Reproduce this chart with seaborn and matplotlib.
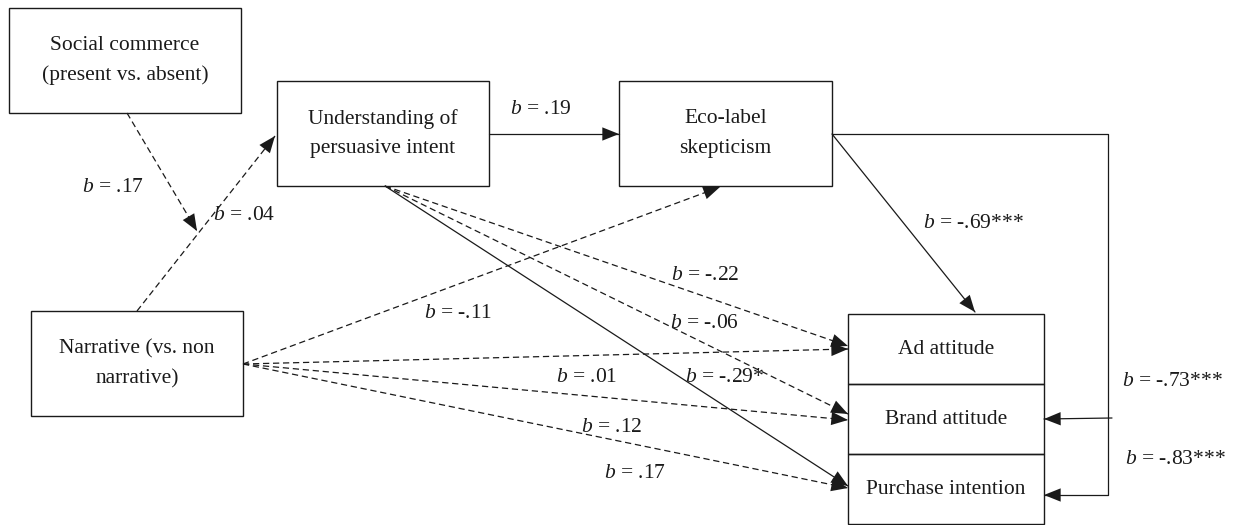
import matplotlib.pyplot as plt
from matplotlib.patches import Rectangle
import seaborn as sns

# node texts
node_texts = ["Social commerce\n(present vs. absent)",
              "Understanding of\npersuasive intent",
              "Eco-label\nskepticism",
              "Narrative (vs. non\nnarrative)"]
outcomes = ["Ad attitude", "Brand attitude", "Purchase intention"]

# path coefficients (in drawing order of the edges below)
coefs = [".17", ".04", ".19", "-.11", ".01", ".12", ".17",
         "-.22", "-.06", "-.29*", "-.69***", "-.73***", "-.83***"]
dashed = [True, True, False, True, True, True, True,
          True, True, False, False, False, False]

# ---- layout (pixel space of a 1233x525 figure) ----
node_boxes = [(9, 8, 232, 105), (277, 81, 212, 105), (619, 81, 213, 105), (31, 311, 212, 105)]
out_box = (848, 314, 196, 70)

edges = [
    [(127, 113), (197, 231)],
    [(137, 311), (275, 136)],
    [(489, 134), (619, 134)],
    [(243, 364), (720, 187)],
    [(243, 364), (848, 420)],
    [(243, 364), (848, 488)],
    [(243, 364), (848, 349)],
    [(385, 186), (848, 346)],
    [(385, 186), (848, 414)],
    [(385, 186), (848, 486)],
    [(832, 134), (975, 312)],
    [(1112, 418), (1044, 419)],
    [(832, 134), (1108, 134), (1108, 495), (1044, 495)],
]
label_pos = [(113, 188), (244, 216), (541, 110), (458, 313), (587, 378), (612, 427), (635, 473),
             (705, 276), (704, 323), (725, 378), (973, 223), (1172, 382), (1175, 460)]

sns.set_theme(style="white")
plt.rcParams['font.family'] = ['Liberation Serif', 'DejaVu Serif']
plt.rcParams['mathtext.fontset'] = 'custom'
plt.rcParams['mathtext.it'] = 'Liberation Serif:italic'
plt.rcParams['mathtext.rm'] = 'Liberation Serif'

ink = "#1a1a1a"
fs = 15.5

fig = plt.figure(figsize=(12.33, 5.25), dpi=100)
ax = fig.add_axes([0, 0, 1, 1])
ax.set_xlim(0, 1233)
ax.set_ylim(525, 0)
ax.axis("off")

for (x, y, w, h), txt in zip(node_boxes, node_texts):
    ax.add_patch(Rectangle((x, y), w, h, fill=False, ec=ink, lw=1.0))
    ax.text(x + w / 2, y + h / 2, txt, ha="center", va="center", fontsize=fs,
            linespacing=1.75, color=ink)

ox, oy, ow, oh = out_box
for i, txt in enumerate(outcomes):
    ax.add_patch(Rectangle((ox, oy + i * oh), ow, oh, fill=False, ec=ink, lw=1.0))
    ax.text(ox + ow / 2, oy + i * oh + oh / 2, txt, ha="center", va="center",
            fontsize=fs, color=ink)

for pts, d in zip(edges, dashed):
    xs = [p[0] for p in pts]
    ys = [p[1] for p in pts]
    ax.plot(xs, ys, color=ink, lw=0.9, ls=(0, (5, 3)) if d else "-")
    ax.annotate("", xy=pts[-1], xytext=pts[-2],
                arrowprops=dict(arrowstyle="-|>,head_length=0.6,head_width=0.24",
                                color=ink, lw=0, mutation_scale=20,
                                shrinkA=0, shrinkB=0))

for (x, y), c in zip(label_pos, coefs):
    ax.text(x, y, r"$b$ = " + c, ha="center", va="center", fontsize=fs, color=ink)

fig.savefig("out.png", dpi=100, facecolor="white")
